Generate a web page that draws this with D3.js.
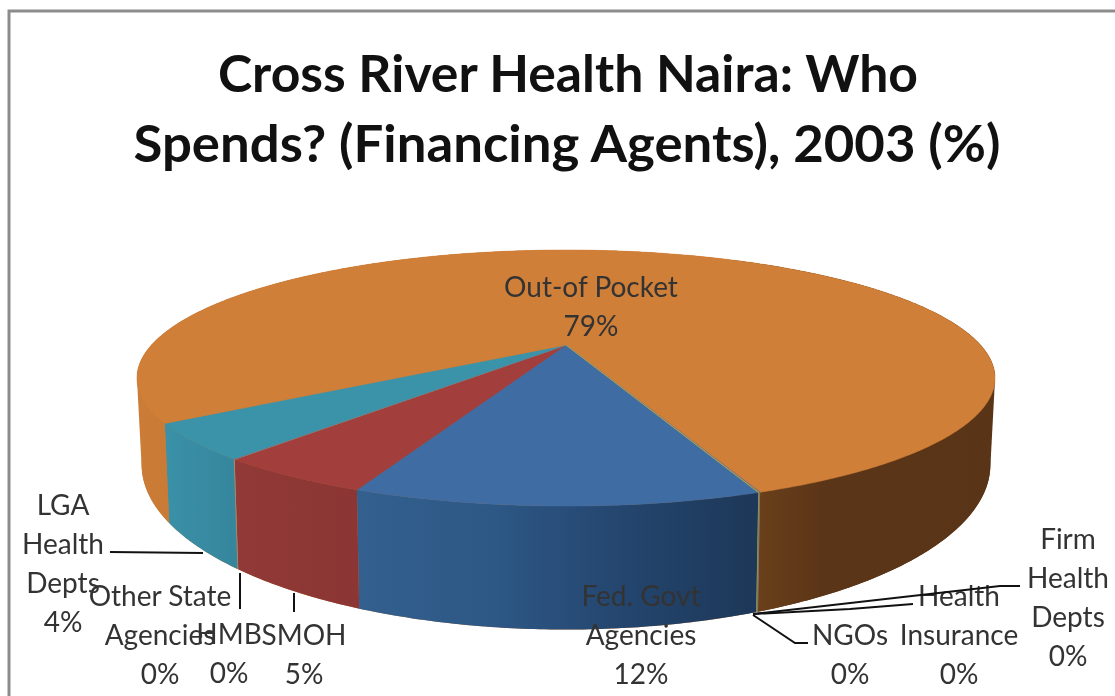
<!DOCTYPE html>
<html>
<head>
<meta charset="utf-8">
<script src="https://cdn.jsdelivr.net/npm/d3@7"></script>
<style>
  html, body { margin: 0; padding: 0; background: #fff; }
  svg { display: block; filter: blur(0.5px); }
  text { font-family: Lato, "Open Sans", sans-serif; }
</style>
</head>
<body>
<div id="chart"></div>
<script>
// Values, clockwise from the front right edge of the blue slice
const agents = ['Fed.  Govt Agencies', 'SMOH', 'HMB', 'Other State Agencies', 'LGA Health Depts',
    'Out-of Pocket', 'Firm Health Depts', 'Health Insurance', 'NGOs'];
const shares = [12.0, 4.8, 0.02, 0.02, 4.4, 78.7, 0.02, 0.02, 0.02];
const topColors = ['#3f6ca3', '#a23e3b', '#9bb85a', '#7d5fa0', '#3b93a9', '#d07f38', '#4a7ebb', '#c0504d', '#9bbb59'];
const titleLines = ['Cross River Health Naira: Who', 'Spends? (Financing Agents), 2003 (%)'];

const width = 1115, height = 696;

// Pie geometry, a disc seen in perspective. The lower rim has its own fit
const persp = 0.258;
const topDisc = { x: 566, y: 345, rx: 414.5, ry: 119.5 };
const lowDisc = { x: 566, y: 422, rx: 410, ry: 154 };
const startAngle = 159.4 * Math.PI / 180;

const svg = d3.select('#chart').append('svg')
    .attr('width', width)
    .attr('height', height);
const defs = svg.append('defs');

const project = (angle, disc) => {
    const u = Math.sin(angle), v = -Math.cos(angle);
    const w = 1 - persp * v;
    const xScale = d3.scaleLinear().domain([-1, 1]).range([-disc.rx, disc.rx]);
    const yScale = d3.scaleLinear().domain([-1, 1]).range([-disc.ry, disc.ry]);
    return [disc.x + xScale(u) / w, disc.y + yScale(v) / w];
};

const pie = d3.pie().sort(null)
    .startAngle(startAngle)
    .endAngle(startAngle + 2 * Math.PI);
const slices = pie(shares);
const line = d3.line().curve(d3.curveLinear);

const rimAngles = (d) => {
    const n = Math.max(2, Math.ceil((d.endAngle - d.startAngle) / 0.01));
    return d3.range(n + 1).map(i => d.startAngle + (d.endAngle - d.startAngle) * i / n);
};

// Shading of the outer wall, left to right along the pie
const gradient = (id, stops, x0, x1) => {
    const g = defs.append('linearGradient')
        .attr('id', id)
        .attr('gradientUnits', 'userSpaceOnUse')
        .attr('x1', x0).attr('x2', x1).attr('y1', 0).attr('y2', 0);
    stops.forEach(s => g.append('stop')
        .attr('offset', s[0])
        .attr('stop-color', s[1]));
};
gradient('wallOrange', [[0, '#cb7c37'], [0.1, '#c67934'], [0.69, '#c67934'], [0.7, '#6f431c'],
    [0.8, '#5b3517'], [1, '#5a3416']], 137, 995);
gradient('wallBlue', [[0, '#33608f'], [0.35, '#2d5785'], [0.7, '#23446c'], [1, '#1d3858']], 355, 755);
gradient('wallRed', [[0, '#913a38'], [1, '#8b3634']], 230, 360);
gradient('wallTeal', [[0, '#3a91a8'], [1, '#35859b']], 165, 240);

const wallFill = ['url(#wallBlue)', 'url(#wallRed)', '#999', '#999', 'url(#wallTeal)', 'url(#wallOrange)', '#888', '#888', '#9bb85a'];

// Outline of the whole drum, so the sides run straight between the two rims
const rimAll = d3.range(0, 2 * Math.PI, 0.01);
const hull = d3.polygonHull(rimAll.map(a => project(a, topDisc)).concat(rimAll.map(a => project(a, lowDisc))));
svg.append('path')
    .attr('d', line(hull) + 'Z')
    .attr('fill', 'url(#wallOrange)');

const walls = svg.append('g').attr('class', 'walls');
walls.selectAll('path')
    .data(slices)
    .enter()
    .append('path')
    .attr('d', d => {
        const as = rimAngles(d);
        const pts = as.map(a => project(a, topDisc))
            .concat(as.slice().reverse().map(a => project(a, lowDisc)));
        return line(pts) + 'Z';
    })
    .attr('fill', (d, i) => wallFill[i]);

// Top faces go over the walls
const tops = svg.append('g').attr('class', 'tops');
tops.selectAll('path')
    .data(slices)
    .enter()
    .append('path')
    .attr('d', d => {
        const pts = rimAngles(d).map(a => project(a, topDisc));
        return line([[topDisc.x, topDisc.y]].concat(pts)) + 'Z';
    })
    .attr('fill', (d, i) => topColors[i])
    .attr('stroke', (d, i) => topColors[i])
    .attr('stroke-width', 0.5);

// Frame, the right and lower sides are cut off in the reference
svg.append('path')
    .attr('d', `M9,696V11H${width}`)
    .attr('fill', 'none')
    .attr('stroke', '#8c8c8c')
    .attr('stroke-width', 3);

// Title
svg.append('g').selectAll('text')
    .data(titleLines)
    .enter()
    .append('text')
    .attr('x', (d, i) => [568, 567][i])
    .attr('y', (d, i) => [92, 162][i])
    .attr('text-anchor', 'middle')
    .attr('font-size', 52)
    .attr('font-weight', 700)
    .attr('textLength', (d, i) => [700, 867][i])
    .attr('lengthAdjust', 'spacingAndGlyphs')
    .attr('fill', '#111')
    .text(d => d);

// Label layout, same order as agents
const labelLayout = [
    { x: 641, y: 606, lines: ['Fed.  Govt', 'Agencies'] },
    { x: 304, y: 645, lines: ['SMOH'] },
    { x: 229, y: 644, lines: ['HMB'] },
    { x: 160, y: 606, lines: ['Other State', 'Agencies'] },
    { x: 63, y: 515, lines: ['LGA', 'Health', 'Depts'] },
    { x: 591, y: 297, lines: ['Out-of Pocket'] },
    { x: 1068, y: 549, lines: ['Firm', 'Health', 'Depts'] },
    { x: 959, y: 606, lines: ['Health', 'Insurance'] },
    { x: 850, y: 645, lines: ['NGOs'] }
];

const labels = svg.append('g').attr('class', 'labels');
labelLayout.forEach((l, i) => {
    const rows = l.lines.concat(d3.format('.0f')(shares[i]) + '%');
    labels.append('text')
        .attr('text-anchor', 'middle')
        .attr('font-size', 28)
        .attr('fill', '#333')
        .selectAll('tspan')
        .data(rows)
        .enter()
        .append('tspan')
        .attr('x', l.x)
        .attr('y', (d, j) => l.y + j * 39)
        .text(d => d);
});

// Leader lines
const leaders = [
    [[110, 552], [203, 553]],
    [[240, 573], [240, 609]],
    [[294, 593], [294, 612]],
    [[753, 615], [795, 643], [808, 643]],
    [[753, 614], [850, 609], [913, 604]],
    [[753, 614], [1000, 586], [1020, 586]]
];
svg.append('g').selectAll('path')
    .data(leaders)
    .enter()
    .append('path')
    .attr('d', d => line(d))
    .attr('fill', 'none')
    .attr('stroke', '#111')
    .attr('stroke-width', 2);
</script>
</body>
</html>
